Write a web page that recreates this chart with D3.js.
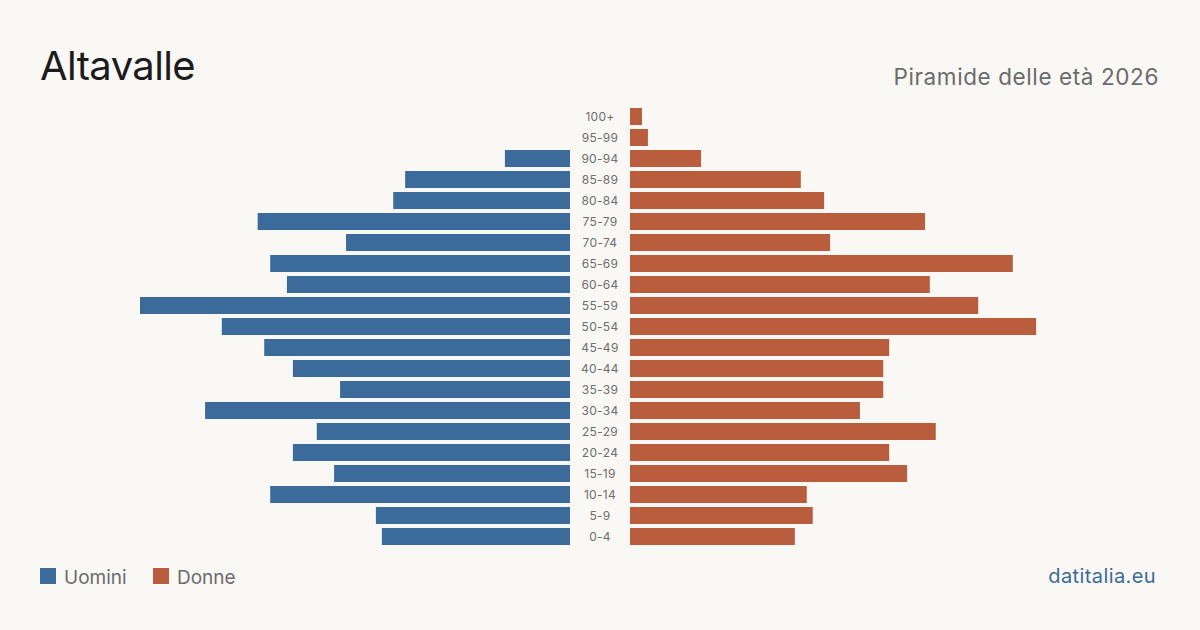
<!DOCTYPE html>
<html>
<head>
<meta charset="utf-8">
<script src="https://cdn.jsdelivr.net/npm/d3@7"></script>
<style>
  html, body { margin: 0; padding: 0; background: #f9f8f4; }
  svg { display: block; font-family: Inter, "Noto Sans", sans-serif; }
</style>
</head>
<body>
<svg id="drawing_region"></svg>
<script>
// age groups from oldest to youngest (top to bottom)
const ageGroups = ['100+', '95-99', '90-94', '85-89', '80-84', '75-79', '70-74', '65-69', '60-64',
  '55-59', '50-54', '45-49', '40-44', '35-39', '30-34', '25-29', '20-24', '15-19', '10-14', '5-9', '0-4'];

// estimated values (same units on both sides)
const uomini = [0, 0, 10.9, 27.6, 29.6, 52.3, 37.5, 50.2, 47.4, 72.0, 58.3, 51.2, 46.4, 38.5, 61.1,
  42.4, 46.4, 39.5, 50.2, 32.5, 31.5];
const donne = [2.0, 3.0, 11.9, 28.6, 32.5, 49.4, 33.5, 64.1, 50.2, 58.3, 68.0, 43.4, 42.4, 42.4, 38.5,
  51.2, 43.4, 46.4, 29.6, 30.6, 27.6];

const seriesNames = ['Uomini', 'Donne'];
const colors = { Uomini: '#3b6b9b', Donne: '#b95d3d' };

const title = 'Altavalle';
const subtitle = 'Piramide delle età 2026';
const source = 'datitalia.eu';

const width = 1200, height = 630;
const centerLeft = 570, centerRight = 630, maxBar = 430;

const svg = d3.select('#drawing_region')
  .attr('width', width)
  .attr('height', height);

svg.append('rect')
  .attr('width', width).attr('height', height)
  .attr('fill', '#f9f8f4');

const rows = ageGroups.map((g, i) => ({ label: g, m: uomini[i], f: donne[i] }));

const yscale = d3.scaleBand()
  .domain(ageGroups)
  .range([106, 547])
  .paddingInner(0.19)
  .paddingOuter(0.095);

const xscale = d3.scaleLinear()
  .domain([0, d3.max(uomini)])
  .range([0, maxBar]);

// male bars (left)
svg.append('g').selectAll('rect')
  .data(rows)
  .join('rect')
  .attr('x', d => centerLeft - xscale(d.m))
  .attr('y', d => yscale(d.label))
  .attr('width', d => xscale(d.m))
  .attr('height', yscale.bandwidth())
  .attr('fill', colors.Uomini);

// female bars (right)
svg.append('g').selectAll('rect')
  .data(rows)
  .join('rect')
  .attr('x', centerRight)
  .attr('y', d => yscale(d.label))
  .attr('width', d => xscale(d.f))
  .attr('height', yscale.bandwidth())
  .attr('fill', colors.Donne);

// age labels in the middle
svg.append('g').selectAll('text')
  .data(rows)
  .join('text')
  .attr('x', (centerLeft + centerRight) / 2)
  .attr('y', d => yscale(d.label) + yscale.bandwidth() / 2)
  .attr('dy', '0.35em')
  .attr('text-anchor', 'middle')
  .attr('font-size', 12)
  .attr('letter-spacing', 0.3)
  .attr('fill', '#6e6e6e')
  .text(d => d.label);

// titles
svg.append('text')
  .attr('x', 40).attr('y', 80)
  .attr('font-size', 40)
  .attr('letter-spacing', -0.6)
  .attr('fill', '#1c1c1c')
  .text(title);

svg.append('text')
  .attr('x', 1159).attr('y', 85)
  .attr('text-anchor', 'end')
  .attr('font-size', 22.5)
  .attr('letter-spacing', 0.6)
  .attr('fill', '#6b6b6b')
  .text(subtitle);

// legend
const legend = svg.append('g')
  .selectAll('g')
  .data(seriesNames)
  .join('g')
  .attr('transform', (d, i) => `translate(${i === 0 ? 40 : 153}, 568)`);

legend.append('rect')
  .attr('width', 16).attr('height', 16)
  .attr('fill', d => colors[d]);

legend.append('text')
  .attr('x', 24).attr('y', 15.5)
  .attr('font-size', 19)
  .attr('fill', '#6b6b6b')
  .text(d => d);

svg.append('text')
  .attr('x', 1156).attr('y', 583)
  .attr('text-anchor', 'end')
  .attr('font-size', 20)
  .attr('letter-spacing', 0.4)
  .attr('fill', '#3b6b9b')
  .text(source);
</script>
</body>
</html>
